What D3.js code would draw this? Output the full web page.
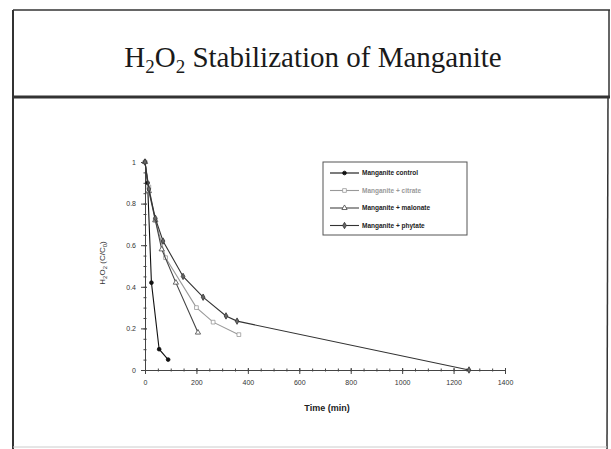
<!DOCTYPE html>
<html>
<head>
<meta charset="utf-8" />
<title>H2O2 Stabilization of Manganite</title>
<script src="https://d3js.org/d3.v7.min.js"></script>
<style>
  body { margin: 0px; background: #fff; }
  .tick text { font-family: "Liberation Sans", Arial, sans-serif; font-size: 7px; fill: #333; }
  .legend text { font-family: "Liberation Sans", Arial, sans-serif; font-size: 6.5px; font-weight: bold; }
</style>
</head>
<body>
<svg id="chart"></svg>
<script>

var width = 611;
var height = 449;

// data: time (min), H2O2 C/C0
var seriesNames = ["Manganite control", "Manganite + citrate", "Manganite + malonate", "Manganite + phytate"];
var controlTime = [0, 10, 25, 55, 90];
var controlValue = [1.0, 0.9, 0.42, 0.1, 0.05];
var citrateTime = [0, 15, 40, 80, 200, 265, 365];
var citrateValue = [1.0, 0.88, 0.72, 0.54, 0.30, 0.23, 0.17];
var malonateTime = [0, 15, 40, 65, 120, 206];
var malonateValue = [1.0, 0.86, 0.72, 0.58, 0.42, 0.18];
var phytateTime = [0, 15, 40, 70, 148, 226, 315, 358, 1260];
var phytateValue = [1.0, 0.87, 0.73, 0.62, 0.45, 0.35, 0.26, 0.235, 0.0];

var xTicks = [0, 200, 400, 600, 800, 1000, 1200, 1400];
var yTicks = [0, 0.2, 0.4, 0.6, 0.8, 1];

var svg = d3.select("#chart")
    .attr("width", width)
    .attr("height", height);

// slide frame
var frame = svg.append("g").attr("fill", "none").attr("stroke", "#333");
frame.append("line").attr("x1", 13).attr("y1", 10).attr("x2", 610).attr("y2", 10).attr("stroke-width", 1.5);
frame.append("line").attr("x1", 13).attr("y1", 10).attr("x2", 13).attr("y2", 449).attr("stroke-width", 2);
frame.append("line").attr("x1", 609).attr("y1", 10).attr("x2", 609).attr("y2", 97).attr("stroke-width", 1.5);
frame.append("line").attr("x1", 608).attr("y1", 97).attr("x2", 607).attr("y2", 449).attr("stroke-width", 1.5);
frame.append("line").attr("x1", 13).attr("y1", 97).attr("x2", 610).attr("y2", 97).attr("stroke-width", 3);
frame.append("line").attr("x1", 13).attr("y1", 447).attr("x2", 607).attr("y2", 447).attr("stroke", "#ccc").attr("stroke-width", 1);

// title
var title = svg.append("text")
    .attr("x", 313)
    .attr("y", 67)
    .attr("text-anchor", "middle")
    .style("font-family", "'Liberation Serif', 'Times New Roman', serif")
    .style("font-size", "29px")
    .attr("fill", "#1a1a1a");
title.append("tspan").text("H");
title.append("tspan").text("2").attr("dy", 6).style("font-size", "19px");
title.append("tspan").text("O").attr("dy", -6);
title.append("tspan").text("2").attr("dy", 6).style("font-size", "19px");
title.append("tspan").text(" Stabilization of Manganite").attr("dy", -6);

var x = d3.scaleLinear().domain([0, 1400]).range([145, 505]);
var y = d3.scaleLinear().domain([0, 1]).range([370, 162]);

// axes with minor ticks crossing the line
var xMinor = d3.axisBottom(x).tickValues(d3.range(0, 1401, 50)).tickFormat("").tickSize(3);
svg.append("g").attr("transform", "translate(0," + (y(0) - 1.5) + ")").call(xMinor)
    .call(function(g) { g.select(".domain").remove(); });
var xAxis = d3.axisBottom(x).tickValues(xTicks).tickSize(4).tickPadding(6)
    .tickFormat(function(d) { return d; });
svg.append("g").attr("id", "x").attr("transform", "translate(0," + y(0) + ")").call(xAxis)
    .call(function(g) { g.selectAll(".tick line").attr("y1", -2); });

var yMinor = d3.axisLeft(y).tickValues(d3.range(0, 1.001, 0.05)).tickFormat("").tickSize(3);
svg.append("g").attr("transform", "translate(" + (x(0) + 1.5) + ",0)").call(yMinor)
    .call(function(g) { g.select(".domain").remove(); });
var yAxis = d3.axisLeft(y).tickValues(yTicks).tickSize(4).tickPadding(5)
    .tickFormat(function(d) { return d === 0 || d === 1 ? d : d3.format(".1f")(d); });
svg.append("g").attr("id", "y").attr("transform", "translate(" + x(0) + ",0)").call(yAxis)
    .call(function(g) { g.selectAll(".tick line").attr("x1", 2); });

svg.selectAll(".domain, .tick line").attr("stroke", "#444");

// axis titles
svg.append("text")
    .attr("x", 327).attr("y", 411)
    .attr("text-anchor", "middle")
    .style("font-family", "'Liberation Sans', Arial, sans-serif")
    .style("font-size", "9px").style("font-weight", "bold")
    .attr("fill", "#222")
    .text("Time (min)");

var yl = svg.append("text")
    .attr("transform", "translate(105,263) rotate(-90)")
    .attr("text-anchor", "middle")
    .style("font-family", "'Liberation Sans', Arial, sans-serif")
    .style("font-size", "8px")
    .attr("fill", "#333");
yl.append("tspan").text("H");
yl.append("tspan").text("2").attr("dy", 2).style("font-size", "6px");
yl.append("tspan").text("O").attr("dy", -2);
yl.append("tspan").text("2").attr("dy", 2).style("font-size", "6px");
yl.append("tspan").text(" (C/C").attr("dy", -2);
yl.append("tspan").text("0").attr("dy", 2).style("font-size", "6px");
yl.append("tspan").text(")").attr("dy", -2);

// series
var series = [
    { name: seriesNames[0], t: controlTime, v: controlValue, color: "#111", marker: "circle", fill: "#111" },
    { name: seriesNames[1], t: citrateTime, v: citrateValue, color: "#999", marker: "square", fill: "#fff" },
    { name: seriesNames[2], t: malonateTime, v: malonateValue, color: "#444", marker: "triangle", fill: "#fff" },
    { name: seriesNames[3], t: phytateTime, v: phytateValue, color: "#333", marker: "diamond", fill: "#666" }
];

var symbols = {
    circle: d3.symbol().type(d3.symbolCircle).size(11),
    square: d3.symbol().type(d3.symbolSquare).size(14),
    triangle: d3.symbol().type(d3.symbolTriangle).size(12),
    diamond: d3.symbol().type(d3.symbolDiamond).size(12)
};

var line = d3.line()
    .x(function(d) { return x(d[0]); })
    .y(function(d) { return y(d[1]); });

series.forEach(function(s) {
    var pts = s.t.map(function(t, i) { return [t, s.v[i]]; });
    var g = svg.append("g");
    g.append("path")
        .datum(pts)
        .attr("d", line)
        .attr("fill", "none")
        .attr("stroke", s.color)
        .attr("stroke-width", 1.1);
    g.selectAll("path.pt")
        .data(pts)
        .enter().append("path")
        .attr("class", "pt")
        .attr("d", symbols[s.marker])
        .attr("transform", function(d) { return "translate(" + x(d[0]) + "," + y(d[1]) + ")"; })
        .attr("fill", s.fill)
        .attr("stroke", s.color)
        .attr("stroke-width", 0.8);
});

// legend
var legend = svg.append("g").attr("class", "legend");
legend.append("rect")
    .attr("x", 323).attr("y", 162)
    .attr("width", 144).attr("height", 73)
    .attr("fill", "#fff").attr("stroke", "#555").attr("stroke-width", 1);

series.forEach(function(s, i) {
    var ly = 173 + i * 17.5;
    legend.append("line")
        .attr("x1", 330).attr("x2", 359)
        .attr("y1", ly).attr("y2", ly)
        .attr("stroke", s.color).attr("stroke-width", 1.1);
    legend.append("path")
        .attr("d", symbols[s.marker])
        .attr("transform", "translate(344.5," + ly + ")")
        .attr("fill", s.fill).attr("stroke", s.color).attr("stroke-width", 0.8);
    legend.append("text")
        .attr("x", 362).attr("y", ly + 2.3)
        .attr("fill", i === 1 ? "#999" : "#222")
        .text(s.name);
});

</script>
</body>
</html>
